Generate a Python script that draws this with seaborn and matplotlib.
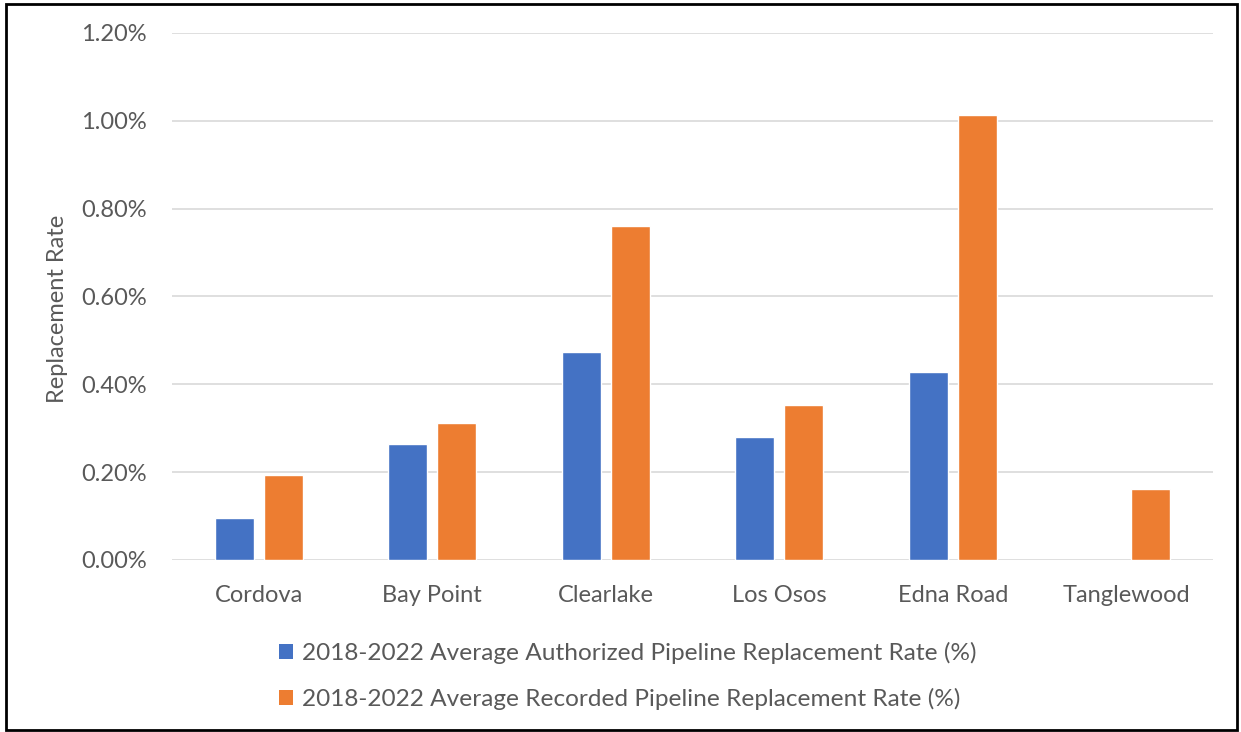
import numpy as np
import pandas as pd
import matplotlib
matplotlib.use("Agg")
import matplotlib.pyplot as plt
import seaborn as sns
from matplotlib.ticker import PercentFormatter, MultipleLocator
from matplotlib.patches import Patch, Rectangle

categories = ["Cordova", "Bay Point", "Clearlake", "Los Osos", "Edna Road", "Tanglewood"]
authorized = [0.096, 0.264, 0.474, 0.280, 0.427, np.nan]
recorded = [0.193, 0.311, 0.761, 0.354, 1.014, 0.161]
series_names = [
    "2018-2022 Average Authorized Pipeline Replacement Rate (%)",
    "2018-2022 Average Recorded Pipeline Replacement Rate (%)",
]
colors = ["#4472C4", "#ED7D31"]

df = pd.DataFrame({
    "Community": categories * 2,
    "Series": [series_names[0]] * len(categories) + [series_names[1]] * len(categories),
    "Rate": authorized + recorded,
})

sns.set_theme(style="white")
plt.rcParams["font.family"] = ["Lato", "DejaVu Sans"]
text_color = "#595959"
fs = 17

fig = plt.figure(figsize=(12.41, 7.32), dpi=100)
ax = fig.add_axes([172 / 1241, 1 - 560 / 732, (1213 - 172) / 1241, (560 - 33) / 732])

sns.barplot(data=df, x="Community", y="Rate", hue="Series", order=categories,
            hue_order=series_names, palette=colors, width=0.565, gap=0.2,
            saturation=1, ax=ax, legend=False)

ax.set_ylim(0, 1.2)
ax.yaxis.set_major_locator(MultipleLocator(0.2))
ax.yaxis.set_major_formatter(PercentFormatter(xmax=100, decimals=2))
ax.grid(axis="y", color="#D9D9D9", linewidth=1.2)
ax.set_axisbelow(True)
for s in ax.spines.values():
    s.set_visible(False)
ax.tick_params(axis="both", length=0, labelsize=fs, colors=text_color)
ax.tick_params(axis="x", pad=18)
ax.tick_params(axis="y", pad=18)
ax.set_xlabel("")
ax.set_ylabel("Replacement Rate", fontsize=fs, color=text_color)
ax.yaxis.set_label_coords((68 - 172) / 1041, (560 - 309) / 527)

handles = [Patch(facecolor=c, edgecolor="none") for c in colors]
fig.legend(handles, series_names, loc="upper left", bbox_to_anchor=(267 / 1241, 1 - 630 / 732),
           frameon=False, fontsize=17.6, labelcolor=text_color, handlelength=0.55,
           handleheight=0.55, handletextpad=0.4, labelspacing=0.97, borderpad=0)

fig.patches.append(Rectangle((6 / 1241, 2 / 732), 1 - 10 / 1241, 1 - 6 / 732,
                             transform=fig.transFigure, fill=False,
                             edgecolor="black", linewidth=2))

fig.savefig("out.png", dpi=100)
